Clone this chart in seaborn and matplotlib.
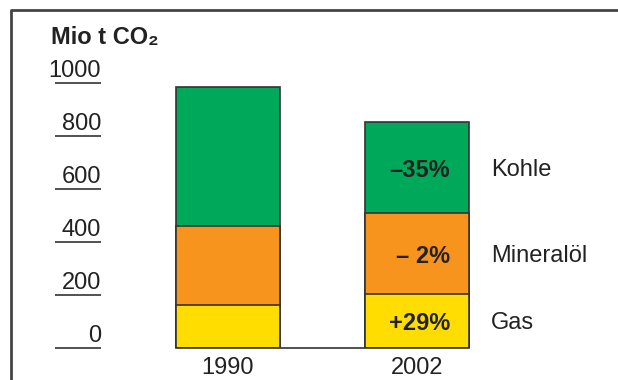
import matplotlib
matplotlib.use("Agg")
import matplotlib.pyplot as plt
import matplotlib.transforms as mtransforms
from matplotlib.lines import Line2D
import seaborn as sns
import pandas as pd

# ---- data ----
years = ["1990", "2002"]
gas = [162, 204]
oil = [300, 304]
coal = [523, 345]
sources = ["Gas", "Mineralöl", "Kohle"]
changes = ["+29%", "– 2%", "–35%"]
yticks = [0, 200, 400, 600, 800, 1000]
unit_label = "Mio t CO₂"

# ---- style ----
sns.set_theme(style="white")
plt.rcParams["font.family"] = ["Liberation Sans", "DejaVu Sans"]
GREEN, ORANGE, YELLOW = "#00A859", "#F7941D", "#FFDD00"
EDGE = "#333333"
TXT = "#222222"
FS = 17

W, H = 618, 380
fig = plt.figure(figsize=(W / 100, H / 100), dpi=100)
ax_l, ax_r, ax_t, ax_b = 40, 618, 30, 348
ax = fig.add_axes([ax_l / W, 1 - ax_b / H, (ax_r - ax_l) / W, (ax_b - ax_t) / H])

c0, ppu = 228, 189.0  # pixel of first category centre, pixels per category unit
def px2x(px):
    return (px - c0) / ppu

df = pd.DataFrame({"year": years, "gas": gas, "oil": oil, "coal": coal})
df["gas_oil"] = df["gas"] + df["oil"]
df["total"] = df["gas_oil"] + df["coal"]

bw = 0.55
for col, colr in [("total", GREEN), ("gas_oil", ORANGE), ("gas", YELLOW)]:
    sns.barplot(data=df, x="year", y=col, color=colr, saturation=1, width=bw,
                edgecolor=EDGE, linewidth=1.2, ax=ax, order=years)

ax.set_xlim(px2x(ax_l), px2x(ax_r))
ax.set_ylim(0, (ax_b - ax_t) / 0.265)
ax.set_xlabel("")
ax.set_ylabel("")
ax.set_yticks([])
ax.tick_params(axis="x", length=0, pad=6.5, labelsize=FS, labelcolor=TXT)
for s in ["left", "right", "top"]:
    ax.spines[s].set_visible(False)
ax.spines["bottom"].set_bounds(-bw / 2, 1 + bw / 2)
ax.spines["bottom"].set_color(EDGE)
ax.spines["bottom"].set_linewidth(1.2)

# y scale marks: lines with labels sitting on top
ax.hlines(yticks, px2x(55), px2x(101), color=EDGE, lw=1.2, clip_on=False)
lab_tr = mtransforms.offset_copy(ax.transData, fig=fig, x=0, y=6.3, units="dots")
for v in yticks:
    ax.text(px2x(101), v, str(v), ha="right", va="baseline", fontsize=FS,
            color=TXT, transform=lab_tr)

fig.text(51 / W, 1 - 44 / H, unit_label, ha="left", va="baseline",
         fontsize=FS, fontweight="bold", color=TXT)

# segment annotations on 2002 bar
segs_lo = [0, gas[1], gas[1] + oil[1]]
segs_hi = [gas[1], gas[1] + oil[1], gas[1] + oil[1] + coal[1]]
for lo, hi, chg, src in zip(segs_lo, segs_hi, changes, sources):
    mid = (lo + hi) / 2
    ax.text(px2x(450), mid, chg, ha="right", va="center_baseline", fontsize=FS,
            fontweight="bold", color=TXT)
    ax.text(px2x(491), mid, src, ha="left", va="center_baseline", fontsize=FS,
            color=TXT)

# frame lines (top and left)
fig.add_artist(Line2D([11 / W, 11 / W, 1], [0, 1 - 10 / H, 1 - 10 / H],
                      transform=fig.transFigure, color="#444444", lw=2))

fig.savefig("out.png", dpi=100)
